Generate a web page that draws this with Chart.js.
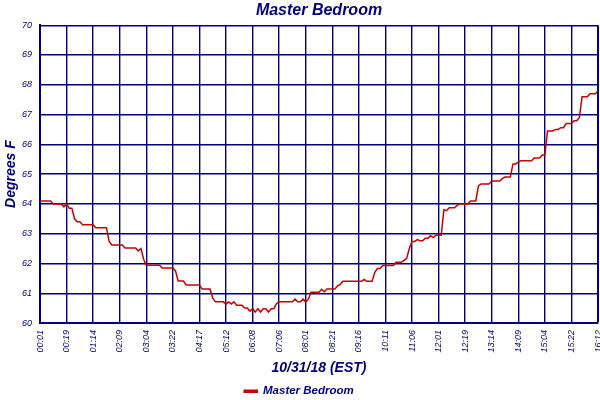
<!DOCTYPE html>
<html>
<head>
<meta charset="utf-8">
<script src="https://cdn.jsdelivr.net/npm/chart.js@4.4.1/dist/chart.umd.min.js"></script>
<style>
html,body{margin:0;padding:0;background:#ffffff;}
#wrap{width:600px;height:400px;}
</style>
</head>
<body>
<div id="wrap"><canvas id="c" width="600" height="400"></canvas></div>
<script>
const chartTitle = 'Master Bedroom';
const seriesName = 'Master Bedroom';
const xTitle = '10/31/18 (EST)';
const yTitle = 'Degrees F';

const tickLabels = ['00:01','00:19','01:14','02:09','03:04','03:22','04:17','05:12','06:08','07:06','08:01',
                    '08:21','09:16','10:11','11:06','12:01','12:19','13:14','14:09','15:04','15:22','16:12'];

const temps = [
64.1,64.1,64.1,64.1,64.1,
64.0,64.0,64.0,64.0,63.9,
64.0,63.85,63.85,63.5,63.4,
63.4,63.3,63.3,63.3,63.3,
63.3,63.2,63.2,63.2,63.2,
63.2,62.75,62.62,62.62,62.62,
62.62,62.62,62.52,62.52,62.52,
62.52,62.52,62.42,62.5,62.14,
61.94,61.94,61.94,61.94,61.94,
61.94,61.85,61.85,61.85,61.85,
61.85,61.75,61.41,61.41,61.41,
61.28,61.28,61.28,61.28,61.28,
61.28,61.14,61.14,61.14,61.14,
60.83,60.71,60.71,60.71,60.71,
60.64,60.71,60.64,60.71,60.6,
60.6,60.6,60.5,60.5,60.4,
60.48,60.37,60.48,60.37,60.48,
60.48,60.37,60.48,60.48,60.65,
60.71,60.71,60.71,60.71,60.71,
60.71,60.8,60.71,60.71,60.8,
60.71,60.8,61.03,61.03,61.03,
61.03,61.13,61.05,61.14,61.14,
61.14,61.14,61.25,61.3,61.4,
61.4,61.4,61.4,61.4,61.4,
61.4,61.4,61.46,61.4,61.4,
61.4,61.7,61.83,61.83,61.93,
61.93,61.93,61.93,61.93,62.04,
62.04,62.04,62.1,62.17,62.5,
62.74,62.74,62.8,62.76,62.76,
62.85,62.85,62.93,62.87,62.95,
62.95,62.95,63.8,63.77,63.87,
63.87,63.87,63.95,64.0,64.0,
64.0,64.0,64.1,64.1,64.1,
64.6,64.67,64.67,64.67,64.67,
64.77,64.77,64.77,64.77,64.85,
64.9,64.9,64.9,65.34,65.34,
65.4,65.45,65.45,65.45,65.45,
65.45,65.54,65.54,65.54,65.64,
65.64,66.45,66.45,66.45,66.5,
66.5,66.56,66.56,66.7,66.7,
66.7,66.79,66.79,66.9,67.6,
67.6,67.6,67.7,67.7,67.7,
67.8
];

const samplesPerTick = 10;
const navy = '#000080';
const red = '#cc0000';
const fam = '"Liberation Sans", Arial, sans-serif';

const points = temps.map((v, i) => ({x: i, y: v}));

const adjustBlocks = {
  id: 'adjustBlocks',
  afterLayout(chart) {
    if (chart.titleBlock) {
      chart.titleBlock.left = chart.chartArea.left;
      chart.titleBlock.right = chart.chartArea.right;
    }
    if (chart.legend) {
      chart.legend.top += 7;
      chart.legend.bottom += 7;
    }
  }
};

new Chart(document.getElementById('c'), {
  type: 'line',
  data: {
    datasets: [{
      label: seriesName,
      data: points,
      borderColor: red,
      backgroundColor: red,
      borderWidth: 1.5,
      pointRadius: 0,
      tension: 0,
      fill: false
    }]
  },
  options: {
    responsive: false,
    animation: false,
    layout: {padding: {left: 0, right: 2, top: 0, bottom: 0}},
    plugins: {
      title: {
        display: true,
        text: chartTitle,
        color: navy,
        font: {family: fam, size: 16, style: 'italic', weight: 'bold'},
        padding: {top: 1, bottom: 5}
      },
      legend: {
        display: true,
        position: 'bottom',
        labels: {
          color: navy,
          font: {family: fam, size: 11.5, style: 'italic', weight: 'bold'},
          boxWidth: 13,
          boxHeight: 2,
          padding: 4
        }
      },
      tooltip: {enabled: false}
    },
    scales: {
      x: {
        type: 'linear',
        min: 0,
        max: (tickLabels.length - 1) * samplesPerTick,
        afterFit(scale) { scale.height = 51.5; scale.paddingLeft = 0; scale.paddingRight = 0; },
        border: {color: navy, width: 2},
        grid: {
          color: navy,
          lineWidth: (ctx) => (ctx.index === tickLabels.length - 1 ? 2 : 1.4),
          drawTicks: false
        },
        ticks: {
          stepSize: samplesPerTick,
          autoSkip: false,
          minRotation: 90,
          maxRotation: 90,
          padding: 7,
          color: navy,
          font: {family: fam, size: 9, style: 'italic'},
          callback: (v) => tickLabels[Math.round(v / samplesPerTick)]
        },
        title: {
          display: true,
          text: xTitle,
          color: navy,
          font: {family: fam, size: 14, style: 'italic', weight: 'bold'},
          padding: {top: 0, bottom: -2}
        }
      },
      y: {
        min: 60,
        max: 70,
        afterFit(scale) { scale.width = 40; scale.paddingTop = 0; scale.paddingBottom = 0; },
        border: {color: navy, width: 2},
        grid: {color: navy, lineWidth: 1.4, drawTicks: false},
        ticks: {
          stepSize: 1,
          padding: 8,
          color: navy,
          font: {family: fam, size: 9, style: 'italic'}
        },
        title: {
          display: true,
          text: yTitle,
          color: navy,
          font: {family: fam, size: 14, style: 'italic', weight: 'bold'},
          padding: {top: 2.5, bottom: 0}
        }
      }
    }
  },
  plugins: [adjustBlocks]
});
</script>
</body>
</html>
